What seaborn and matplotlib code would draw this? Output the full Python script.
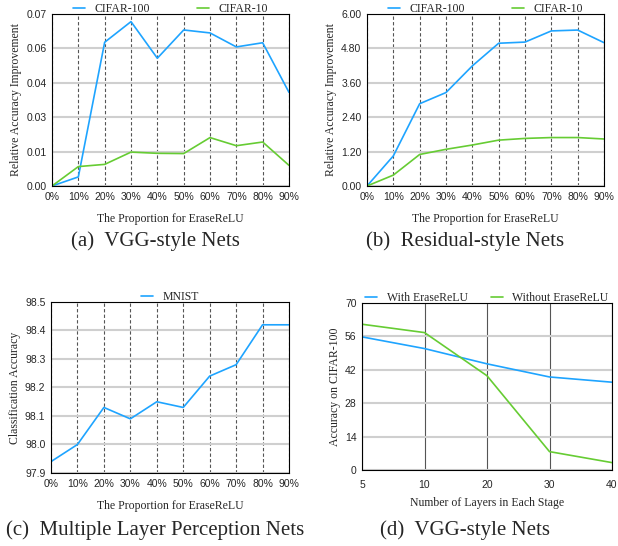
import numpy as np
import pandas as pd
import matplotlib
matplotlib.use('Agg')
import matplotlib.pyplot as plt
from matplotlib.ticker import FormatStrFormatter, MultipleLocator
import seaborn as sns

sns.set_style('white')
plt.rcParams['font.family'] = ['Liberation Serif', 'DejaVu Serif']

# Datos
proporcion = [0, 10, 20, 30, 40, 50, 60, 70, 80, 90]
etiquetas_prop = ['0%', '10%', '20%', '30%', '40%', '50%', '60%', '70%', '80%', '90%']

vgg_c100 = [0.0, 0.0037, 0.0585, 0.0669, 0.0520, 0.0635, 0.0623, 0.0566, 0.0583, 0.0381]
vgg_c10 = [0.0, 0.0079, 0.0088, 0.0138, 0.0133, 0.0132, 0.0197, 0.0164, 0.0179, 0.0084]

res_c100 = [0.0, 1.05, 2.87, 3.26, 4.19, 4.98, 5.02, 5.41, 5.44, 5.00]
res_c10 = [0.0, 0.38, 1.10, 1.28, 1.43, 1.60, 1.66, 1.69, 1.69, 1.64]

mlp_mnist = [97.94, 98.00, 98.13, 98.09, 98.15, 98.13, 98.24, 98.28, 98.42, 98.42]

capas = ['5', '10', '20', '30', '40']
con_erase = [55.8, 50.9, 44.5, 39.0, 36.8]
sin_erase = [61.1, 57.6, 39.5, 7.7, 3.1]

AZUL = '#1ea4ff'
VERDE = '#66cc33'
TICK_FONT = ['Liberation Sans', 'DejaVu Sans']
LBL = 8.5

fig = plt.figure(figsize=(6.18, 5.46), dpi=100)
W, H = 618, 546


def crear_ejes(x0, y0, x1, y1):
    return fig.add_axes([x0 / W, 1 - y1 / H, (x1 - x0) / W, (y1 - y0) / H])


def estilo(ax, vdash=True):
    ax.grid(False)
    ax.yaxis.grid(True, color='#cfcfcf', linewidth=1.5)
    ax.xaxis.grid(True, color='#555555', linewidth=0.8,
                  linestyle=(0, (3, 2)) if vdash else '-')
    ax.set_axisbelow(True)
    for s in ax.spines.values():
        s.set_color('black')
        s.set_linewidth(0.8)
    ax.tick_params(axis='both', which='major', direction='in', length=2, width=0.6,
                   labelsize=7.5, pad=4)
    ax.tick_params(axis='x', which='minor', direction='in', length=2.5, width=1.2,
                   top=False)
    for lab in ax.get_xticklabels() + ax.get_yticklabels():
        lab.set_family(TICK_FONT)


def leyenda(ax, sep=4):
    ax.legend(loc='lower center', bbox_to_anchor=(0.5, 0.96), ncol=2, frameon=False,
              fontsize=LBL, handlelength=1.0, handletextpad=0.8, columnspacing=sep,
              borderaxespad=0.1)


# (a) VGG-style
ax = crear_ejes(52, 14, 289, 186)
sns.lineplot(x=proporcion, y=vgg_c100, ax=ax, color=AZUL, label='CIFAR-100', linewidth=1.2)
sns.lineplot(x=proporcion, y=vgg_c10, ax=ax, color=VERDE, label='CIFAR-10', linewidth=1.2)
ax.set_xlim(0, 90)
ax.set_ylim(0, 0.07)
ax.set_yticks(np.linspace(0, 0.07, 6))
ax.yaxis.set_major_formatter(FormatStrFormatter('%.2f'))
ax.set_xticks(proporcion)
ax.set_xticklabels(etiquetas_prop)
ax.xaxis.set_minor_locator(MultipleLocator(5))
ax.set_xlabel('The Proportion for EraseReLU', fontsize=LBL, labelpad=8)
ax.set_ylabel('Relative Accuracy Improvement', fontsize=LBL, labelpad=3)
estilo(ax)
leyenda(ax)

# (b) Residual-style
ax = crear_ejes(367, 14, 604, 186)
sns.lineplot(x=proporcion, y=res_c100, ax=ax, color=AZUL, label='CIFAR-100', linewidth=1.2)
sns.lineplot(x=proporcion, y=res_c10, ax=ax, color=VERDE, label='CIFAR-10', linewidth=1.2)
ax.set_xlim(0, 90)
ax.set_ylim(0, 6)
ax.set_yticks(np.linspace(0, 6, 6))
ax.yaxis.set_major_formatter(FormatStrFormatter('%.2f'))
ax.set_xticks(proporcion)
ax.set_xticklabels(etiquetas_prop)
ax.xaxis.set_minor_locator(MultipleLocator(5))
ax.set_xlabel('The Proportion for EraseReLU', fontsize=LBL, labelpad=8)
ax.set_ylabel('Relative Accuracy Improvement', fontsize=LBL, labelpad=3)
estilo(ax)
leyenda(ax)

# (c) MLP
ax = crear_ejes(51, 302, 289, 473)
sns.lineplot(x=proporcion, y=mlp_mnist, ax=ax, color=AZUL, label='MNIST', linewidth=1.2)
ax.set_xlim(0, 90)
ax.set_ylim(97.9, 98.5)
ax.set_yticks(np.linspace(97.9, 98.5, 7))
ax.yaxis.set_major_formatter(FormatStrFormatter('%.1f'))
ax.set_xticks(proporcion)
ax.set_xticklabels(etiquetas_prop)
ax.xaxis.set_minor_locator(MultipleLocator(5))
ax.set_xlabel('The Proportion for EraseReLU', fontsize=LBL, labelpad=8)
ax.set_ylabel('Classification Accuracy', fontsize=LBL, labelpad=3)
estilo(ax)
leyenda(ax)

# (d) VGG-style profundidad
ax = crear_ejes(362, 303, 612, 470)
pos = np.arange(len(capas))
sns.lineplot(x=pos, y=con_erase, ax=ax, color=AZUL, label='With EraseReLU', linewidth=1.2)
sns.lineplot(x=pos, y=sin_erase, ax=ax, color=VERDE, label='Without EraseReLU', linewidth=1.2)
ax.set_xlim(0, len(capas) - 1)
ax.set_ylim(0, 70)
ax.set_yticks(np.linspace(0, 70, 6))
ax.yaxis.set_major_formatter(FormatStrFormatter('%d'))
ax.set_xticks(pos)
ax.set_xticklabels(capas)
ax.xaxis.set_minor_locator(MultipleLocator(0.5))
ax.set_xlabel('Number of Layers in Each Stage', fontsize=LBL, labelpad=5)
ax.set_ylabel('Accuracy on CIFAR-100', fontsize=LBL, labelpad=3)
estilo(ax, vdash=False)
ax.tick_params(axis='x', which='major', pad=7)
leyenda(ax, sep=2.0)

# Subtitulos
fig.text(155 / W, 1 - 241 / H, '(a)  VGG-style Nets', ha='center', va='center', fontsize=15)
fig.text(465 / W, 1 - 241 / H, '(b)  Residual-style Nets', ha='center', va='center',
         fontsize=15)
fig.text(155 / W, 1 - 530 / H, '(c)  Multiple Layer Perception Nets', ha='center',
         va='center', fontsize=15)
fig.text(465 / W, 1 - 530 / H, '(d)  VGG-style Nets', ha='center', va='center', fontsize=15)

fig.savefig('out.png', dpi=100)
plt.close(fig)
